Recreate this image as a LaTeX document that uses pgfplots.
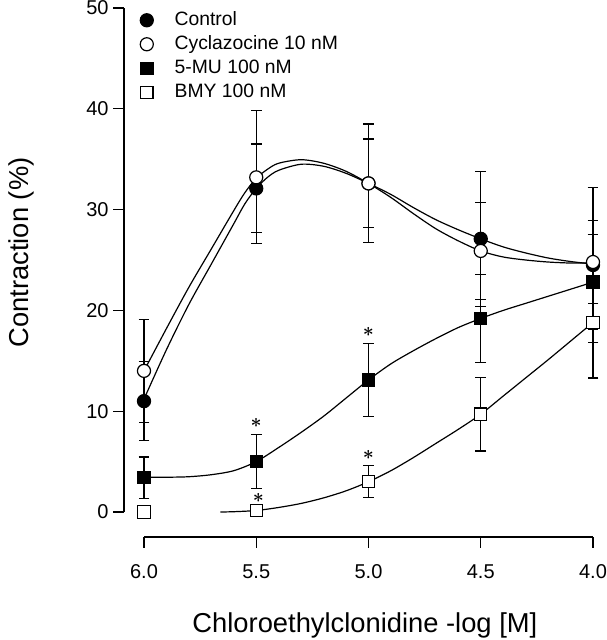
\documentclass[border=0pt]{standalone}
\usepackage{fontspec}
\setmainfont{Liberation Sans}
\usepackage{pgfplots}
\pgfplotsset{compat=1.18}

% fitted curves
\pgfplotstableread{
x y
6.00 11.2
5.90 16.1
5.80 20.6
5.70 24.6
5.60 28.6
5.55 30.6
5.50 32.1
5.45 33.2
5.40 33.9
5.30 34.5
5.20 34.3
5.10 33.6
5.00 32.6
4.90 31.5
4.80 30.2
4.70 29.0
4.60 28.0
4.50 27.1
4.40 26.3
4.30 25.7
4.20 25.2
4.10 24.85
4.00 24.6
}\fitcontrol
\pgfplotstableread{
x y
6.00 14.0
5.90 18.2
5.80 22.3
5.70 26.1
5.60 29.9
5.55 31.7
5.50 33.1
5.45 34.0
5.40 34.6
5.30 34.95
5.20 34.6
5.10 33.8
5.00 32.6
4.90 31.2
4.80 29.6
4.70 28.1
4.60 26.9
4.50 25.9
4.40 25.3
4.30 25.0
4.20 24.8
4.10 24.7
4.00 24.7
}\fitcyclazocine
\pgfplotstableread{
x y
6.00 3.45
5.90 3.45
5.80 3.5
5.70 3.7
5.60 4.1
5.50 5.0
5.40 6.4
5.30 7.9
5.20 9.5
5.10 11.3
5.00 13.1
4.90 14.7
4.80 16.0
4.70 17.2
4.60 18.3
4.50 19.2
4.40 20.0
4.30 20.7
4.20 21.4
4.10 22.1
4.00 22.8
}\fitmu
\pgfplotstableread{
x y
5.66 0.0
5.60 0.03
5.50 0.15
5.40 0.45
5.30 0.85
5.20 1.4
5.10 2.1
5.00 3.0
4.90 4.1
4.80 5.4
4.70 6.8
4.60 8.2
4.50 9.7
4.40 11.5
4.30 13.3
4.20 15.1
4.10 16.95
4.00 18.8
}\fitbmy

\begin{document}
\begin{tikzpicture}
\useasboundingbox (-108pt,-96pt) rectangle (347.25pt,384pt);
\begin{axis}[
    at={(0,0)}, anchor=south west,
    scale only axis,
    width=336.75pt, height=378pt,
    x dir=reverse,
    xmin=4, xmax=6, ymin=0, ymax=50,
    separate axis lines,
    axis x line*=bottom, axis y line*=left,
    axis x line shift=18.75pt,
    axis y line shift=15pt,
    axis line style={-, line width=0.9pt},
    xtick={4,4.5,5,5.5,6},
    ytick={0,10,20,30,40,50},
    xticklabel style={/pgf/number format/.cd, fixed, fixed zerofill, precision=1,
        /tikz/yshift=-9pt},
    /pgf/number format/assume math mode=true,
    tick align=outside, major tick length=8pt,
    tick style={line width=0.9pt, black},
    ticklabel style={font=\fontsize{15}{17}\selectfont},
    clip=false,
    xlabel={Chloroethylclonidine -log [M]},
    ylabel={Contraction (\%)},
    every axis x label/.style={at={(axis description cs:0.492,-0.240)}, anchor=base,
        font=\fontsize{20.5}{24}\selectfont},
    every axis y label/.style={at={(axis description cs:-0.272,0.515)}, anchor=center,
        rotate=90, font=\fontsize{20.5}{24}\selectfont},
    legend cell align=left,
    legend image code/.code={\draw[#1] plot coordinates {(0pt,0pt)};},
    legend style={at={(axis description cs:0,1)}, anchor=north west,
        xshift=-3pt, yshift=-2pt, draw=none, fill=none, inner sep=0pt,
        row sep=4pt, font=\fontsize{14.5}{17}\selectfont,
        nodes={inner sep=0pt, text height=11pt, text depth=3pt},
        /tikz/every odd column/.append style={column sep=16pt}},
    every axis plot/.append style={line width=0.9pt, black},
]
% fitted curves
\addplot[smooth, no marks, forget plot] table {\fitcontrol};
\addplot[smooth, no marks, forget plot] table {\fitcyclazocine};
\addplot[smooth, no marks, forget plot] table {\fitmu};
\addplot[smooth, no marks, forget plot] table {\fitbmy};

\pgfplotsset{
    errstyle/.style={error bars/.cd, y dir=both, y explicit,
        error bar style={line width=0.9pt},
        error mark options={rotate=90, mark size=4.1pt, line width=0.9pt}},
}
\addplot[only marks, mark=*, mark size=4.9pt, mark options={fill=black}, errstyle]
    coordinates {(6.0,11.0) +- (0,3.9) (5.5,32.1) +- (0,4.4) (5.0,32.6) +- (0,4.4)
                 (4.5,27.1) +- (0,6.7) (4.0,24.5) +- (0,7.7)};
\addlegendentry{Control}
\addplot[only marks, mark=*, mark size=4.9pt, mark options={fill=white}, errstyle]
    coordinates {(6.0,14.0) +- (0,5.1) (5.5,33.2) +- (0,6.6) (5.0,32.6) +- (0,5.9)
                 (4.5,25.9) +- (0,4.8) (4.0,24.8) +- (0,4.1)};
\addlegendentry{Cyclazocine 10 nM}
\addplot[only marks, mark=square*, mark size=4.6pt, mark options={fill=black}, errstyle]
    coordinates {(6.0,3.4) +- (0,2.05) (5.5,5.0) +- (0,2.65) (5.0,13.1) +- (0,3.65)
                 (4.5,19.2) +- (0,4.4) (4.0,22.8) +- (0,4.7)};
\addlegendentry{5-MU 100 nM}
\addplot[only marks, mark=square*, mark size=4.6pt, mark options={fill=white}, errstyle]
    coordinates {(6.0,0.0) +- (0,0) (5.5,0.15) +- (0,0) (5.0,3.0) +- (0,1.6)
                 (4.5,9.7) +- (0,3.65) (4.0,18.8) +- (0,5.5)};
\addlegendentry{BMY 100 nM}

% significance marks
\tikzset{sig/.style={font=\fontsize{14}{14}\selectfont\boldmath}}
\node[sig] at (axis cs:5.5,8.8) {$\ast$};
\node[sig] at (axis cs:5.0,17.9) {$\ast$};
\node[sig] at (axis cs:5.49,1.4) {$\ast$};
\node[sig] at (axis cs:5.0,5.7) {$\ast$};
\end{axis}
\end{tikzpicture}
\end{document}
